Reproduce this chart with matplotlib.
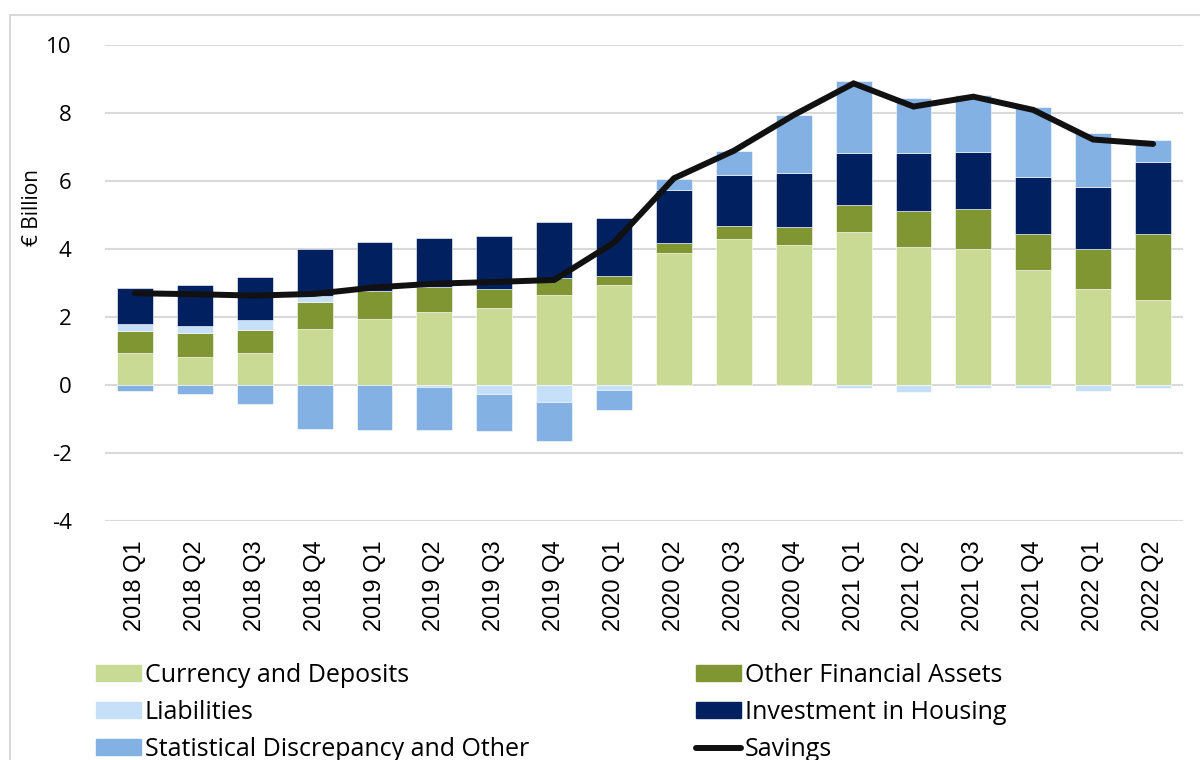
import numpy as np
import matplotlib
matplotlib.use('Agg')
import matplotlib.pyplot as plt
from matplotlib.patches import Rectangle, Patch
from matplotlib.lines import Line2D

plt.rcParams['axes.unicode_minus'] = False

# DATA (EUR billion)
quarters = ['2018 Q1', '2018 Q2', '2018 Q3', '2018 Q4',
            '2019 Q1', '2019 Q2', '2019 Q3', '2019 Q4',
            '2020 Q1', '2020 Q2', '2020 Q3', '2020 Q4',
            '2021 Q1', '2021 Q2', '2021 Q3', '2021 Q4',
            '2022 Q1', '2022 Q2']
currency = [0.93, 0.83, 0.95, 1.64, 1.94, 2.14, 2.26, 2.64, 2.94,
            3.89, 4.30, 4.11, 4.51, 4.05, 4.01, 3.39, 2.82, 2.49]
other_fin = [0.66, 0.71, 0.67, 0.81, 0.83, 0.73, 0.55, 0.52, 0.28,
             0.28, 0.38, 0.54, 0.78, 1.07, 1.17, 1.06, 1.17, 1.96]
liabilities = [0.20, 0.20, 0.30, 0.17, 0.0, -0.07, -0.26, -0.50, -0.16,
               0.0, 0.0, 0.0, -0.08, -0.22, -0.08, -0.08, -0.17, -0.08]
housing = [1.07, 1.19, 1.27, 1.37, 1.44, 1.46, 1.57, 1.63, 1.69,
           1.57, 1.50, 1.59, 1.53, 1.70, 1.67, 1.67, 1.84, 2.12]
stat_disc = [-0.18, -0.25, -0.56, -1.30, -1.32, -1.26, -1.09, -1.15, -0.58,
             0.32, 0.71, 1.70, 2.12, 1.62, 1.68, 2.07, 1.57, 0.63]
savings = [2.70, 2.67, 2.63, 2.68, 2.87, 2.98, 3.03, 3.09, 4.19,
           6.08, 6.89, 7.94, 8.87, 8.19, 8.48, 8.09, 7.22, 7.09]

series = [
    ('Currency and Deposits', currency, '#c9da94'),
    ('Other Financial Assets', other_fin, '#7f9632'),
    ('Liabilities', liabilities, '#c6e0f9'),
    ('Investment in Housing', housing, '#002060'),
    ('Statistical Discrepancy and Other', stat_disc, '#83b1e3'),
]

fig = plt.figure(figsize=(12, 7.6), dpi=100)
ax = fig.add_axes([105/1200, 1 - 521/760, 1078/1200, 476/760])

# frame around the whole chart
fig.patches.append(Rectangle((10/1200, -0.1), 1.2, 1 - 15/760 + 0.1,
                             transform=fig.transFigure, fill=False,
                             edgecolor='#d9d9d9', linewidth=1.5))

x = np.arange(len(quarters))
pos_base = np.zeros(len(x))
neg_base = np.zeros(len(x))
for name, vals, col in series:
    v = np.array(vals)
    bottom = np.where(v >= 0, pos_base, neg_base)
    ax.bar(x, v, 0.6, bottom=bottom, color=col, edgecolor='white',
           linewidth=0.4, zorder=2)
    pos_base = pos_base + np.where(v > 0, v, 0)
    neg_base = neg_base + np.where(v < 0, v, 0)

ax.plot(x, savings, color='#111111', linewidth=4.3, zorder=4,
        solid_capstyle='round', solid_joinstyle='miter')

ax.set_xlim(-0.5, len(x) - 0.5)
ax.set_ylim(-4, 10)
ax.set_yticks(range(-4, 11, 2))
ax.grid(axis='y', color='#d9d9d9', linewidth=1.5, zorder=0)
ax.set_axisbelow(True)
for s in ax.spines.values():
    s.set_visible(False)
ax.tick_params(axis='y', length=0, pad=24, labelsize=16)
ax.tick_params(axis='x', length=0, pad=14)
for lab in ax.get_yticklabels():
    lab.set_family('Open Sans')
ax.set_xticks(x)
ax.set_xticklabels(quarters, rotation=90, fontsize=17,
                   family='Liberation Sans')

fig.text(32/1200, 1 - 208/760, '€ Billion', rotation=90, fontsize=15,
         family='Open Sans', ha='center', va='center')

h = [Patch(color=c) for _, _, c in series]
h.append(Line2D([0], [0], color='#111111', linewidth=4.3,
                solid_capstyle='round'))
labels = [s[0] for s in series] + ['Savings']
kw = dict(frameon=False, prop={'family': 'Open Sans', 'size': 18},
          handlelength=1.8, handleheight=0.6, handletextpad=0.15,
          labelspacing=0.48, borderpad=0, borderaxespad=0)
leg1 = fig.legend([h[0], h[2], h[4]], [labels[0], labels[2], labels[4]],
                  loc='upper left', bbox_to_anchor=(96/1200, 1 - 663/760), **kw)
leg2 = fig.legend([h[1], h[3], h[5]], [labels[1], labels[3], labels[5]],
                  loc='upper left', bbox_to_anchor=(696/1200, 1 - 663/760), **kw)

fig.savefig('out.png', dpi=100)
